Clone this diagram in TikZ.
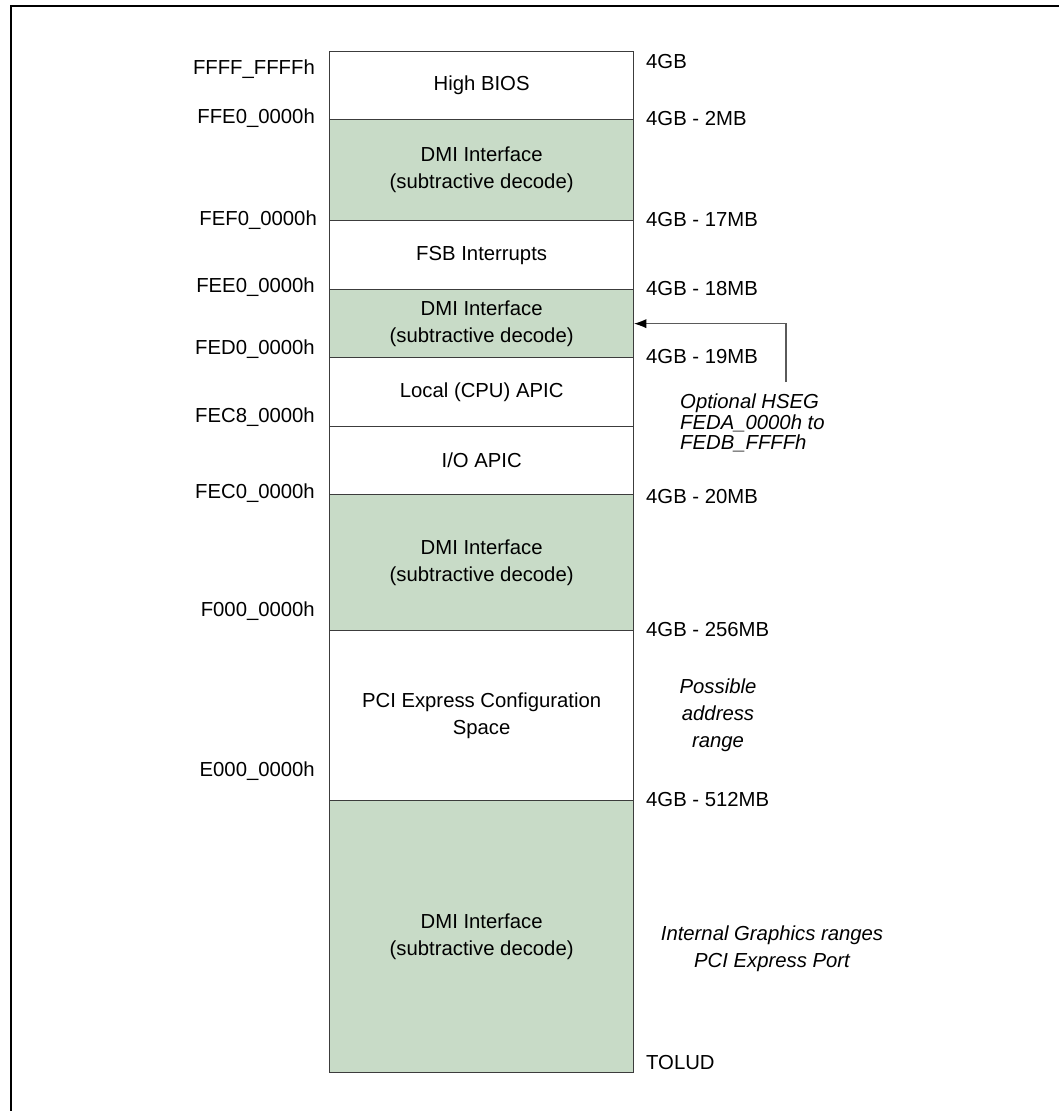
\documentclass[tikz,border=0pt]{standalone}
\usepackage{fontspec}
\setmainfont{Liberation Sans}
\usetikzlibrary{arrows.meta}
\definecolor{dmigreen}{RGB}{200,219,199}
\definecolor{edgegray}{RGB}{60,60,60}
\definecolor{arrowgray}{RGB}{90,90,90}
\begin{document}
\begin{tikzpicture}[x=1pt,y=-1pt,
  txt/.style={font=\fontsize{20.3}{27}\selectfont, inner sep=0pt},
  region/.style={txt, draw=edgegray, line width=1.3pt, minimum width=304pt, anchor=north west, align=center, fill=white},
  dmi/.style={region, fill=dmigreen},
  addr/.style={txt, anchor=east},
  size/.style={txt, anchor=west},
  note/.style={txt, font=\fontsize{20.3}{27}\selectfont\itshape, align=center},
  pointer/.style={draw=arrowgray, line width=1.2pt, -{Latex[length=12pt,width=9pt,fill=black,line width=0pt]}}
]
\useasboundingbox (0,0) rectangle (1059,1111);
% frame
\draw[line width=2.4pt] (11,1111) -- (11,6) -- (1059,6);

% regions
\node[region, minimum height=68pt]  (hbios) at (329,51)  {High BIOS};
\node[dmi,    minimum height=101pt] (dmi1)  at (329,119) {DMI Interface\\(subtractive decode)};
\node[region, minimum height=69pt]  (fsb)   at (329,220) {FSB Interrupts};
\node[dmi,    minimum height=68pt]  (dmi2)  at (329,289) {DMI Interface\\(subtractive decode)};
\node[region, minimum height=69pt]  (lapic) at (329,357) {Local (CPU) APIC};
\node[region, minimum height=68pt]  (ioapic) at (329,426) {I/O APIC};
\node[dmi,    minimum height=136pt] (dmi3)  at (329,494) {DMI Interface\\(subtractive decode)};
\node[region, minimum height=170pt] (pcie)  at (329,630) {PCI Express Configuration\\Space};
\node[dmi,    minimum height=272pt] (dmi4)  at (329,800) {DMI Interface\\(subtractive decode)};

% left addresses
\node[addr] (a1) at (315,69)  {FFFF\_FFFFh};
\node[addr] (a2) at (315,118) {FFE0\_0000h};
\node[addr] (a3) at (317,220) {FEF0\_0000h};
\node[addr] (a4) at (315,287) {FEE0\_0000h};
\node[addr] (a5) at (315,349) {FED0\_0000h};
\node[addr] (a6) at (315,417) {FEC8\_0000h};
\node[addr] (a7) at (315,493) {FEC0\_0000h};
\node[addr] (a8) at (315,611) {F000\_0000h};
\node[addr] (a9) at (315,771) {E000\_0000h};

% right sizes
\node[size] (s1) at (646,62)  {4GB};
\node[size] (s2) at (646,119) {4GB - 2MB};
\node[size] (s3) at (646,220) {4GB - 17MB};
\node[size] (s4) at (646,289) {4GB - 18MB};
\node[size] (s5) at (646,357) {4GB - 19MB};
\node[size] (s6) at (646,497) {4GB - 20MB};
\node[size] (s7) at (646,630) {4GB - 256MB};
\node[size] (s8) at (646,800) {4GB - 512MB};
\node[size] (s9) at (646,1062) {TOLUD};

% notes
\node[note, font=\fontsize{20.3}{20.5}\selectfont\itshape, align=left, anchor=north west] (hseg) at (680,394)
  {Optional HSEG\\FEDA\_0000h to\\FEDB\_FFFFh};
\node[note] (poss) at (718,715) {Possible\\address\\range};
\node[note] (igfx) at (772,949) {Internal Graphics ranges\\PCI Express Port};

% pointer
\coordinate (hsegtop) at (786,382);
\draw[pointer] (hsegtop) |- (dmi2.east);
\end{tikzpicture}
\end{document}
